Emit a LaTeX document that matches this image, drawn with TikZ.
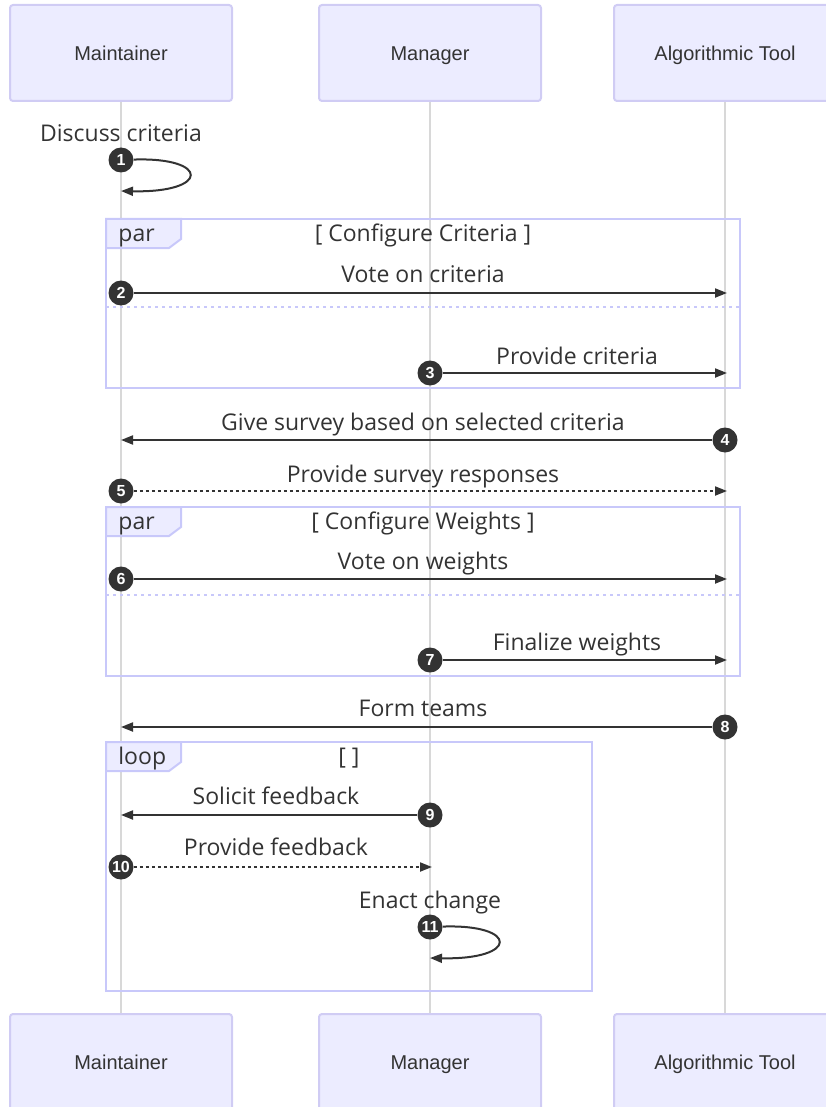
\documentclass[tikz,border=0pt]{standalone}
\usepackage{fontspec}
\setmainfont{Open Sans}
\newfontfamily\actorfont{Liberation Sans}
\usetikzlibrary{arrows.meta}

\definecolor{actorfill}{HTML}{ECECFF}
\definecolor{actorline}{HTML}{D0CCF4}
\definecolor{fragline}{HTML}{C8C8FA}
\definecolor{lifegray}{HTML}{D8D8D8}
\definecolor{ink}{HTML}{333333}

\begin{document}
\begin{tikzpicture}[
    x=0.5pt, y=-0.5pt,
    actor/.style={draw=actorline, line width=1pt, fill=actorfill, rounded corners=1.5pt,
                  minimum width=111pt, minimum height=48pt, text=ink,
                  text height=0.72em, text depth=0pt,
                  font=\actorfont\fontsize{10}{12}\selectfont},
    lifeline/.style={draw=lifegray, line width=0.6pt},
    fragbox/.style={draw=fragline, line width=1pt},
    fragtab/.style={fragbox, fill=actorfill},
    divider/.style={draw=fragline, line width=1pt, dash pattern=on 1.5pt off 2pt},
    msgtext/.style={anchor=base, text=ink, inner sep=0pt, font=\fontsize{11.5}{13}\selectfont},
    msg/.style={draw=ink, line width=1pt, -{Triangle[length=6pt, width=4.5pt]}},
    reply/.style={msg, dash pattern=on 1.5pt off 1.5pt},
    seqnum/.style={circle, fill=ink, inner sep=0pt, minimum size=12.5pt, text=white,
                   font=\actorfont\bfseries\fontsize{8}{8}\selectfont}
]
    \useasboundingbox (0,0) rectangle (825,1107);

    % Actors
    \node [actor] (maint) at (121,53) {Maintainer};
    \node [actor] (mgr) at (430,53) {Manager};
    \node [actor] (tool) at (725,53) {Algorithmic Tool};
    \node [actor] (maintB) at (121,1062) {Maintainer};
    \node [actor] (mgrB) at (430,1062) {Manager};
    \node [actor] (toolB) at (725,1062) {Algorithmic Tool};

    % Lifelines
    \draw [lifeline] (maint) -- (maintB);
    \draw [lifeline] (mgr) -- (mgrB);
    \draw [lifeline] (tool) -- (toolB);

    % Fragments
    \draw [fragbox] (106,219) rectangle (740,388);
    \draw [divider] (106,307) -- (740,307);
    \draw [fragtab] (106,219) -- (181,219) -- (181,239) -- (169,248) -- (106,248) -- cycle;
    \node [msgtext, anchor=base west] (par1) at (118,242) {par};
    \node [msgtext] (cond1) at (423,242) {[ Configure Criteria ]};

    \draw [fragbox] (106,507) rectangle (740,676);
    \draw [divider] (106,595) -- (740,595);
    \draw [fragtab] (106,507) -- (181,507) -- (181,527) -- (169,536) -- (106,536) -- cycle;
    \node [msgtext, anchor=base west] (par2) at (118,529) {par};
    \node [msgtext] (cond2) at (423,529) {[ Configure Weights ]};

    \draw [fragbox] (106,742) rectangle (592,991);
    \draw [fragtab] (106,742) -- (181,742) -- (181,762) -- (169,771) -- (106,771) -- cycle;
    \node [msgtext, anchor=base west] (loop1) at (118,764) {loop};
    \node [msgtext] (cond3) at (349,764) {[ ]};

    % Sequence numbers
    \node [seqnum] (n1) at (121,160) {1};
    \node [seqnum] (n2) at (121,293) {2};
    \node [seqnum] (n3) at (430,373) {3};
    \node [seqnum] (n4) at (725,440) {4};
    \node [seqnum] (n5) at (121,491) {5};
    \node [seqnum] (n6) at (121,579) {6};
    \node [seqnum] (n7) at (430,660) {7};
    \node [seqnum] (n8) at (725,727) {8};
    \node [seqnum] (n9) at (430,815) {9};
    \node [seqnum] (n10) at (121,867) {10};
    \node [seqnum] (n11) at (430,927) {11};

    % Message ends
    \coordinate (e1) at (121,191);
    \coordinate (e2) at (727,293);
    \coordinate (e3) at (727,373);
    \coordinate (e4) at (121,440);
    \coordinate (e5) at (727,491);
    \coordinate (e6) at (727,579);
    \coordinate (e7) at (727,660);
    \coordinate (e8) at (121,727);
    \coordinate (e9) at (121,815);
    \coordinate (e10) at (432,867);
    \coordinate (e11) at (430,958);

    % Messages
    \node [msgtext] (m1) at (121,142) {Discuss criteria};
    \draw [msg] (n1) .. controls (210,157) and (210,193) .. (e1);
    \node [msgtext] (m2) at (423,282) {Vote on criteria};
    \draw [msg] (n2) -- (e2);
    \node [msgtext] (m3) at (577,364) {Provide criteria};
    \draw [msg] (n3) -- (e3);
    \node [msgtext] (m4) at (423,430) {Give survey based on selected criteria};
    \draw [msg] (n4) -- (e4);
    \node [msgtext] (m5) at (423,482) {Provide survey responses};
    \draw [reply] (n5) -- (e5);
    \node [msgtext] (m6) at (423,569) {Vote on weights};
    \draw [msg] (n6) -- (e6);
    \node [msgtext] (m7) at (577,650) {Finalize weights};
    \draw [msg] (n7) -- (e7);
    \node [msgtext] (m8) at (423,716) {Form teams};
    \draw [msg] (n8) -- (e8);
    \node [msgtext] (m9) at (276,804) {Solicit feedback};
    \draw [msg] (n9) -- (e9);
    \node [msgtext] (m10) at (276,855) {Provide feedback};
    \draw [reply] (n10) -- (e10);
    \node [msgtext] (m11) at (430,908) {Enact change};
    \draw [msg] (n11) .. controls (519,924) and (519,960) .. (e11);

\end{tikzpicture}
\end{document}
